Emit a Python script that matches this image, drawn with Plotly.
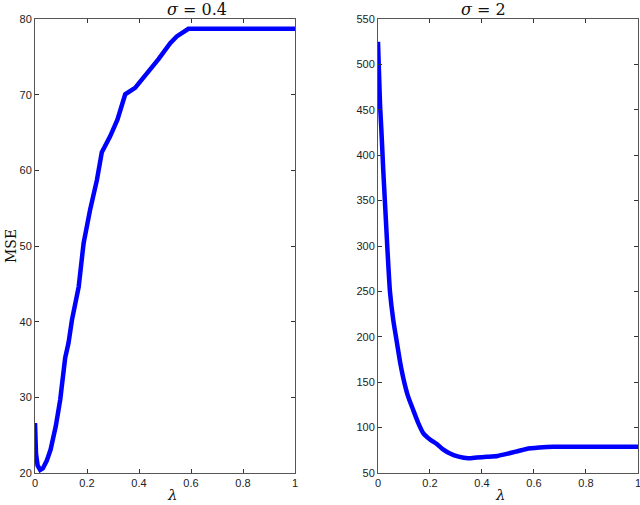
import plotly.graph_objects as go
from plotly.subplots import make_subplots

# ─── Données ──────────────────────────────────────────────────────────────────
lam_a = [0.0, 0.004, 0.01, 0.02, 0.03, 0.045, 0.06, 0.08, 0.097, 0.116, 0.129, 0.142,
         0.168, 0.187, 0.212, 0.238, 0.257, 0.289, 0.317, 0.347, 0.385, 0.436,
         0.475, 0.52, 0.545, 0.59, 0.7, 0.8, 0.9, 1.0]
mse_a = [26.6, 22.5, 21.0, 20.4, 20.6, 21.6, 23.1, 26.2, 29.7, 35.2, 37.2, 40.2,
         44.6, 50.4, 54.8, 58.7, 62.4, 64.5, 66.7, 70.05, 70.9, 73.0,
         74.7, 76.8, 77.7, 78.7, 78.7, 78.7, 78.7, 78.7]

lam_b = [0.0, 0.004, 0.008, 0.013, 0.02, 0.027, 0.036, 0.046, 0.059, 0.072, 0.085,
         0.097, 0.115, 0.136, 0.155, 0.174, 0.2, 0.226, 0.25, 0.277, 0.31,
         0.347, 0.38, 0.418, 0.46, 0.495, 0.53, 0.571, 0.62, 0.674, 0.75,
         0.85, 1.0]
mse_b = [525, 490, 455, 428, 385, 347, 298, 250, 218, 195, 172,
         155, 135, 119, 105, 94, 87, 82, 76, 71.5, 68,
         66.2, 67, 67.8, 68.8, 71, 73.5, 76.5, 78, 79, 79,
         79, 79]

titres = ["<i>σ</i> = 0.4", "<i>σ</i> = 2"]
BLEU = "#0000FF"

fig = make_subplots(rows=1, cols=2, horizontal_spacing=0.1376)
fig.add_trace(go.Scatter(x=lam_a, y=mse_a, mode="lines",
                         line=dict(color=BLEU, width=4.5)),
              row=1, col=1)
fig.add_trace(go.Scatter(x=lam_b, y=mse_b, mode="lines",
                         line=dict(color=BLEU, width=4.5, shape="spline", smoothing=0.5)),
              row=1, col=2)

axe = dict(
    showline=True, linecolor="#555555", linewidth=1, mirror="ticks",
    ticks="inside", ticklen=4, tickcolor="#333333", showgrid=False, zeroline=False,
    automargin=False, ticklabeloverflow="allow",
    tickfont=dict(family="Liberation Sans, Arial, sans-serif", size=11, color="#222222"),
)

fig.update_xaxes(**axe, range=[0, 1], tickvals=[0, 0.2, 0.4, 0.6, 0.8, 1],
                 ticktext=["0", "0.2", "0.4", "0.6", "0.8", "1"])
fig.update_xaxes(domain=[0, 0.4312], row=1, col=1)
fig.update_xaxes(domain=[0.5688, 1], row=1, col=2)
fig.update_yaxes(**axe)
fig.update_yaxes(range=[20, 80], tickvals=list(range(20, 81, 10)), row=1, col=1)
fig.update_yaxes(range=[50, 550], tickvals=list(range(50, 551, 50)), row=1, col=2)

serif = "DejaVu Serif, Liberation Serif, serif"
annots = [
    dict(text=titres[0], x=0.2156, y=1.0, xref="paper", yref="paper",
         yanchor="bottom", yshift=-2, showarrow=False, font=dict(family=serif, size=16)),
    dict(text=titres[1], x=0.7844, y=1.0, xref="paper", yref="paper",
         yanchor="bottom", yshift=-2, showarrow=False, font=dict(family=serif, size=16)),
    dict(text="<i>λ</i>", x=0.2156, y=0, xref="paper", yref="paper",
         yanchor="top", yshift=-11, showarrow=False, font=dict(family=serif, size=15)),
    dict(text="<i>λ</i>", x=0.7844, y=0, xref="paper", yref="paper",
         yanchor="top", yshift=-11, showarrow=False, font=dict(family=serif, size=15)),
    dict(text="MSE", x=0, y=0.5, xref="paper", yref="paper", textangle=-90,
         xanchor="right", xshift=-14, showarrow=False, font=dict(family=serif, size=14)),
]

fig.update_layout(
    width=640, height=505,
    margin=dict(l=35, r=2, t=19, b=32),
    plot_bgcolor="white", paper_bgcolor="white",
    showlegend=False,
    annotations=annots,
    font=dict(color="#111111"),
)

# marge par défaut du <body> à zéro pour que la figure occupe toute la fenêtre
fig.write_html("out.html", config={"displayModeBar": False},
               post_script="document.body.style.margin='0';")
